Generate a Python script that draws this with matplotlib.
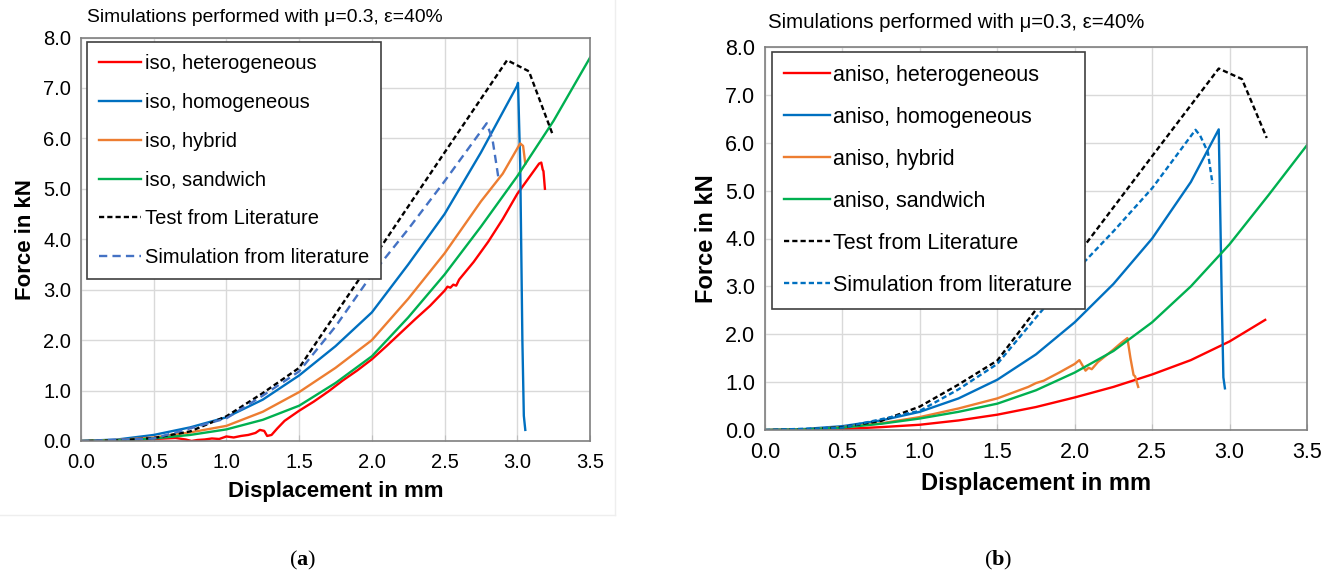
import matplotlib
matplotlib.use('Agg')
import matplotlib.pyplot as plt
from matplotlib.lines import Line2D

plt.rcParams['font.family'] = ['Liberation Sans', 'DejaVu Sans']
plt.rcParams['mathtext.fontset'] = 'custom'
plt.rcParams['mathtext.bf'] = 'Liberation Serif:bold'

# ---- data (displacement in mm, force in kN) ----
# test from literature (same test in both panels)
test_x = [0.05, 0.25, 0.5, 0.75, 1.0, 1.25, 1.5, 2.0, 2.5, 2.93, 3.08, 3.24]
test_y = [0.0, 0.01, 0.06, 0.19, 0.49, 0.95, 1.45, 3.58, 5.72, 7.55, 7.33, 6.1]

# (a) isotropic
iso_het_x = [0.0, 0.25, 0.5, 0.65, 0.72, 0.76, 0.8, 0.85, 0.9, 0.95, 1.0, 1.05, 1.1, 1.15, 1.2,
             1.23, 1.26, 1.28, 1.31, 1.35, 1.4, 1.45, 1.5, 1.6, 1.7, 1.8, 1.9, 2.0, 2.1, 2.2,
             2.3, 2.4, 2.5, 2.52, 2.54, 2.56, 2.58, 2.6, 2.7, 2.8, 2.9, 3.0, 3.1, 3.15, 3.165,
             3.175, 3.18, 3.19]
iso_het_y = [0.0, 0.01, 0.04, 0.06, 0.03, 0.0, 0.02, 0.03, 0.05, 0.04, 0.09, 0.07, 0.1, 0.12, 0.16,
             0.22, 0.2, 0.1, 0.12, 0.25, 0.4, 0.5, 0.6, 0.78, 0.98, 1.2, 1.4, 1.62, 1.88, 2.15,
             2.42, 2.68, 2.98, 3.06, 3.04, 3.1, 3.08, 3.2, 3.55, 3.95, 4.4, 4.9, 5.3, 5.5, 5.52,
             5.38, 5.35, 5.0]
iso_hom_x = [0.0, 0.25, 0.5, 0.75, 1.0, 1.25, 1.5, 1.75, 2.0, 2.25, 2.5, 2.75, 3.0, 3.005,
             3.02, 3.035, 3.045, 3.055]
iso_hom_y = [0.0, 0.03, 0.12, 0.27, 0.47, 0.82, 1.3, 1.88, 2.55, 3.5, 4.5, 5.72, 7.05, 7.1,
             5.5, 2.0, 0.5, 0.22]
iso_hyb_x = [0.0, 0.25, 0.5, 0.75, 1.0, 1.25, 1.5, 1.75, 2.0, 2.25, 2.5, 2.75, 2.9, 3.0, 3.02,
             3.04, 3.055]
iso_hyb_y = [0.0, 0.02, 0.07, 0.17, 0.3, 0.58, 0.97, 1.45, 2.0, 2.82, 3.72, 4.75, 5.3, 5.8, 5.9,
             5.85, 5.5]
iso_san_x = [0.0, 0.25, 0.5, 0.75, 1.0, 1.25, 1.5, 1.75, 2.0, 2.25, 2.5, 2.75, 3.0, 3.25, 3.5]
iso_san_y = [0.0, 0.01, 0.05, 0.12, 0.23, 0.42, 0.7, 1.15, 1.68, 2.45, 3.3, 4.25, 5.25, 6.35, 7.6]
iso_lit_x = [0.0, 0.5, 1.0, 1.25, 1.5, 1.75, 2.0, 2.25, 2.5, 2.79, 2.83, 2.85, 2.87]
iso_lit_y = [0.0, 0.05, 0.45, 0.9, 1.38, 2.27, 3.3, 4.2, 5.15, 6.3, 5.97, 5.6, 5.22]

# (b) anisotropic
ani_het_x = [0.0, 0.25, 0.5, 0.75, 1.0, 1.25, 1.5, 1.75, 2.0, 2.25, 2.5, 2.75, 3.0, 3.23]
ani_het_y = [0.0, 0.005, 0.02, 0.06, 0.11, 0.2, 0.32, 0.48, 0.68, 0.9, 1.16, 1.46, 1.85, 2.3]
ani_hom_x = [0.0, 0.25, 0.5, 0.75, 1.0, 1.25, 1.5, 1.75, 2.0, 2.25, 2.5, 2.75, 2.93, 2.94, 2.95,
             2.96, 2.97]
ani_hom_y = [0.0, 0.02, 0.08, 0.2, 0.38, 0.66, 1.05, 1.58, 2.25, 3.05, 4.0, 5.18, 6.28, 4.5, 2.65,
             1.1, 0.87]
ani_hyb_x = [0.0, 0.25, 0.5, 0.75, 1.0, 1.25, 1.5, 1.7, 1.75, 1.8, 1.9, 2.0, 2.03, 2.07, 2.09,
             2.11, 2.15, 2.2, 2.25, 2.3, 2.34, 2.36, 2.38, 2.39, 2.41]
ani_hyb_y = [0.0, 0.01, 0.06, 0.14, 0.27, 0.45, 0.66, 0.9, 0.98, 1.03, 1.2, 1.38, 1.46, 1.24, 1.3,
             1.27, 1.42, 1.55, 1.68, 1.82, 1.92, 1.5, 1.15, 1.12, 0.9]
ani_san_x = [0.0, 0.25, 0.5, 0.75, 1.0, 1.25, 1.5, 1.75, 2.0, 2.25, 2.5, 2.75, 3.0, 3.25, 3.5]
ani_san_y = [0.0, 0.01, 0.05, 0.13, 0.24, 0.38, 0.55, 0.83, 1.2, 1.65, 2.25, 3.0, 3.88, 4.9, 5.95]
ani_lit_x = [0.0, 0.5, 1.0, 1.25, 1.5, 1.75, 2.0, 2.25, 2.5, 2.78, 2.81, 2.86, 2.89]
ani_lit_y = [0.0, 0.05, 0.4, 0.85, 1.38, 2.35, 3.3, 4.15, 5.05, 6.27, 6.15, 5.8, 5.14]

title = 'Simulations performed with μ=0.3, ε=40%'
x_ticks = [0.0, 0.5, 1.0, 1.5, 2.0, 2.5, 3.0, 3.5]
y_ticks = [0.0, 1.0, 2.0, 3.0, 4.0, 5.0, 6.0, 7.0, 8.0]

RED = '#FF0000'
BLUE = '#0070C0'
ORANGE = '#ED7D31'
GREEN = '#00B050'
LITBLUE = '#4472C4'


# draw one panel
def panel(ax, prefix, curves, lit_color, lit_dash, fs, lab_fs):
    het, hom, hyb, san, lit = curves
    lw = 1.7
    ax.plot(*het, color=RED, lw=lw, label=prefix + ', heterogeneous')
    ax.plot(*hom, color=BLUE, lw=lw, label=prefix + ', homogeneous')
    ax.plot(*hyb, color=ORANGE, lw=lw, label=prefix + ', hybrid')
    ax.plot(*san, color=GREEN, lw=lw, label=prefix + ', sandwich')
    ax.plot(test_x, test_y, color='black', lw=lw, ls=(0, (2.2, 1.3)), label='Test from Literature')
    ax.plot(*lit, color=lit_color, lw=lw, ls=lit_dash, label='Simulation from literature')

    ax.set_xlim(0, 3.5)
    ax.set_ylim(0, 8)
    ax.set_xticks(x_ticks)
    ax.set_yticks(y_ticks)
    ax.set_xticklabels(['%.1f' % t for t in x_ticks])
    ax.set_yticklabels(['%.1f' % t for t in y_ticks])
    ax.tick_params(axis='x', direction='in', length=4, color='#BFBFBF', labelsize=fs, pad=9)
    ax.tick_params(axis='y', length=0, labelsize=fs, pad=7)
    ax.grid(True, color='#D9D9D9', lw=1)
    ax.set_axisbelow(True)
    for s in ax.spines.values():
        s.set_color('#7F7F7F')
        s.set_linewidth(1.2)
    ax.set_xlabel('Displacement in mm', fontsize=lab_fs, fontweight='bold', labelpad=6)
    ax.set_ylabel('Force in kN', fontsize=lab_fs, fontweight='bold', labelpad=5)

    leg = ax.legend(loc='upper left', bbox_to_anchor=(0.012, 0.988), borderaxespad=0,
                    fontsize=fs, handlelength=2.1, handletextpad=0.15, labelspacing=0.98,
                    fancybox=False, framealpha=1, borderpad=0.6)
    leg.get_frame().set_edgecolor('#404040')
    leg.get_frame().set_linewidth(1.2)


fig = plt.figure(figsize=(13.36, 5.76), dpi=100)

ax1 = fig.add_axes([81 / 1336, 1 - 441 / 576, (590 - 81) / 1336, (441 - 37.5) / 576])
panel(ax1, 'iso',
      [(iso_het_x, iso_het_y), (iso_hom_x, iso_hom_y), (iso_hyb_x, iso_hyb_y),
       (iso_san_x, iso_san_y), (iso_lit_x, iso_lit_y)],
      LITBLUE, (0, (3.5, 2.2)), 14.5, 16)

ax2 = fig.add_axes([765 / 1336, 1 - 430 / 576, (1307 - 765) / 1336, (430 - 47) / 576])
panel(ax2, 'aniso',
      [(ani_het_x, ani_het_y), (ani_hom_x, ani_hom_y), (ani_hyb_x, ani_hyb_y),
       (ani_san_x, ani_san_y), (ani_lit_x, ani_lit_y)],
      BLUE, (0, (2.2, 1.3)), 15.5, 17)

fig.text(87 / 1336, 1 - 18 / 576, title, fontsize=13.9, va='center', ha='left')
fig.text(768 / 1336, 1 - 22 / 576, title, fontsize=14.7, va='center', ha='left')

# faint frame of the left picture
fig.add_artist(Line2D([0, 615 / 1336], [1 - 515 / 576] * 2, color='#EEEEEE', lw=1))
fig.add_artist(Line2D([615 / 1336] * 2, [1 - 515 / 576, 1], color='#EEEEEE', lw=1))

fig.text(303 / 1336, 1 - 560 / 576, r'($\mathbf{a}$)', family='Liberation Serif',
         fontsize=16, ha='center', va='center')
fig.text(998 / 1336, 1 - 560 / 576, r'($\mathbf{b}$)', family='Liberation Serif',
         fontsize=16, ha='center', va='center')

fig.savefig('out.png', dpi=100)
